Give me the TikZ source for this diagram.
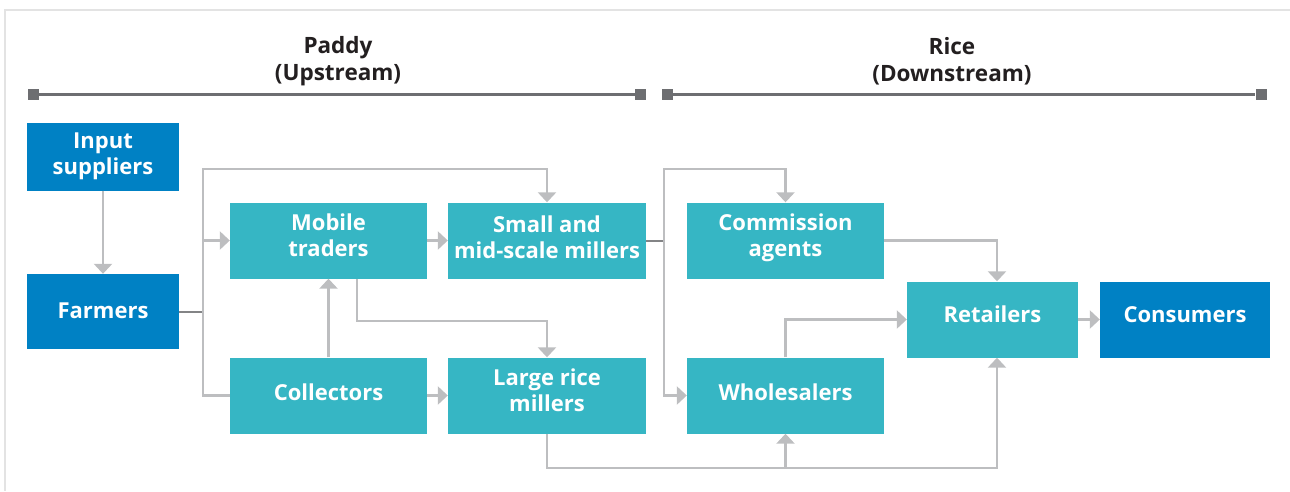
\documentclass[tikz,border=0pt]{standalone}
\usepackage{fontspec}
\setmainfont{Open Sans}
\usetikzlibrary{arrows.meta}

\definecolor{myblue}{HTML}{0081C4}
\definecolor{myteal}{HTML}{36B6C4}
\definecolor{mylinegray}{HTML}{BDBEC0}
\definecolor{mydarkgray}{HTML}{6D6E71}
\definecolor{myframe}{HTML}{E3E3E3}
\definecolor{mytext}{HTML}{231F20}

\begin{document}
\begin{tikzpicture}[x=1pt, y=-1pt,
  box/.style={rectangle, inner sep=0pt, align=center, text=white,
    text height=17pt, text depth=6.3pt,
    font=\fontsize{22}{26}\selectfont\bfseries},
  twoline/.style={text height=43pt},
  raised/.style={text depth=11.3pt},
  tealbox/.style={box, fill=myteal, minimum width=197pt, minimum height=76pt},
  bluebox/.style={box, fill=myblue, minimum width=152pt},
  head/.style={align=center, text=mytext, font=\fontsize{22.5}{27}\selectfont\bfseries},
  endsq/.style={rectangle, fill=mydarkgray, inner sep=0pt, minimum size=11pt},
  bar/.style={draw=mydarkgray, line width=3pt},
  stub/.style={draw=mydarkgray!85, line width=2pt},
  link/.style={draw=mylinegray, line width=2.6pt},
  arr/.style={link, -{Triangle[width=18pt,length=10pt]}},
  dblarr/.style={link, {Triangle[width=18pt,length=10pt]}-{Triangle[width=18pt,length=10pt]}}
]
\useasboundingbox (0,0) rectangle (1290,491);
%\fill[white] (0,0) rectangle (1290,491);
\draw[myframe, line width=2pt] (5,491) -- (5,10) -- (1290,10);

% stage headers
\node[head] (paddy) at (338,61) {Paddy\\(Upstream)};
\node[head] (rice) at (952,61) {Rice\\(Downstream)};
\node[endsq] (pL) at (33.5,94.5) {};
\node[endsq] (pR) at (640.5,94.5) {};
\node[endsq] (rL) at (667.5,94.5) {};
\node[endsq] (rR) at (1261,94.5) {};
\draw[bar] (pL) -- (pR);
\draw[bar] (rL) -- (rR);

% actors
\node[bluebox, twoline, minimum height=68pt] (inp) at (103,156.5) {Input\\suppliers};
\node[bluebox, text depth=3.5pt, minimum height=75pt] (farm) at (103,311.5) {Farmers};
\node[tealbox, twoline, raised] (mob) at (328.5,240.5) {Mobile\\traders};
\node[tealbox, twoline, minimum width=198pt] (sml) at (547,240.5) {Small and\\mid-scale millers};
\node[tealbox] (coll) at (328.5,395.5) {Collectors};
\node[tealbox, twoline, raised, minimum width=198pt] (lrg) at (547,395.5) {Large rice\\millers};
\node[tealbox, twoline, raised] (com) at (785.5,240.5) {Commission\\agents};
\node[tealbox] (whl) at (785.5,395.5) {Wholesalers};
\node[tealbox, raised, minimum width=171pt] (ret) at (992.5,319.5) {Retailers};
\node[box, raised, fill=myblue, minimum width=170pt, minimum height=76pt] (con) at (1185,319.5) {Consumers};

% upstream links
\coordinate (bL) at (203,311.5);
\coordinate (topL) at (203,169);
\coordinate (mt) at (357,321);
\draw[arr] (inp) -- (farm);
\draw[stub] (farm.east) -- (bL);
\draw[dblarr] (mob.west) -| (topL) -| (sml.north);
\draw[link] (coll.west) -| (bL |- mob.west);
\draw[arr] (mob) -- (sml);
\draw[arr] (coll) -- (mob);
\draw[arr] (coll) -- (lrg);
\draw[arr] (mob.south -| mt) -- (mt) -| (lrg.north);

% downstream links
\coordinate (bR) at (664,240.5);
\coordinate (topR) at (664,169);
\coordinate (low) at (997,468);
\draw[stub] (sml.east) -- (bR);
\draw[dblarr] (com.north) |- (topR) |- (whl.west);
\draw[arr] (com.east) -| ([xshift=4.5pt]ret.north);
\draw[arr] (whl.north) |- (ret.west);
\draw[arr] (ret) -- (con);
\draw[arr] (lrg.south) |- (low) -- ([xshift=4.5pt]ret.south);
\draw[arr] (whl.south |- low) -- (whl.south);
\end{tikzpicture}
\end{document}
